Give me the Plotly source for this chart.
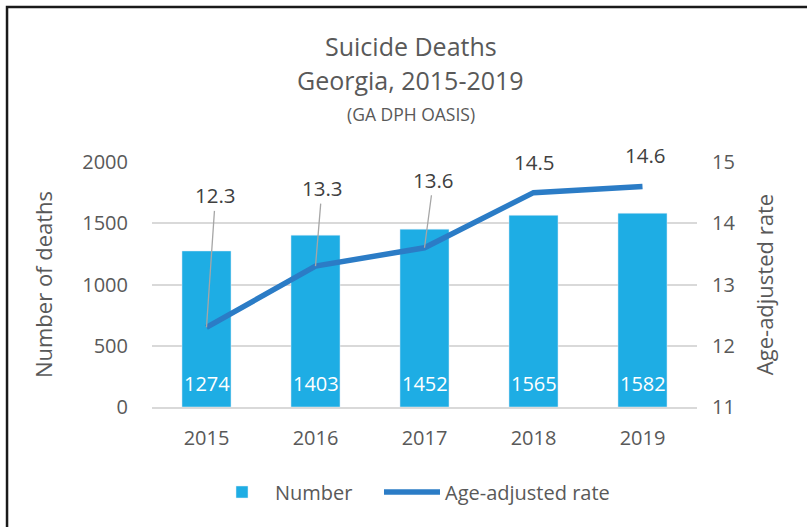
import plotly.graph_objects as go

years = ["2015", "2016", "2017", "2018", "2019"]
deaths = [1274, 1403, 1452, 1565, 1582]
rates = [12.3, 13.3, 13.6, 14.5, 14.6]
left_ticks = [0, 500, 1000, 1500, 2000]
right_ticks = [11, 12, 13, 14, 15]

FONT = "'Open Sans', sans-serif"
GRAY = "#595959"
BAR = "#1EADE4"
LINE = "#2B7CC6"

fig = go.Figure()
fig.add_trace(go.Bar(
    x=years, y=deaths, name="Number", marker_color=BAR, width=0.45, legend="legend",
))
fig.add_trace(go.Scatter(
    x=years, y=rates, name="Age-adjusted rate", yaxis="y2", mode="lines",
    line=dict(color=LINE, width=5.5), legend="legend2",
))

# bar value labels (white, near the bar base)
for i, v in enumerate(deaths):
    fig.add_annotation(x=i, y=0, xref="x", yref="y", text=str(v), showarrow=False,
                       yanchor="middle", yshift=24,
                       font=dict(size=20, color="white", family=FONT))

# data labels for the rate line (offsets in pixels); x given as category index
offsets = [(9, -132, True), (6.5, -78, True), (9, -68, True), (0.5, -31, False), (2.5, -32, False)]
for i, (r, (ax, ay, lead)) in enumerate(zip(rates, offsets)):
    fig.add_annotation(
        x=i, y=r, xref="x", yref="y2", text=f"{r:.1f}", showarrow=True, ax=ax, ay=ay,
        arrowhead=0, arrowwidth=1.3,
        arrowcolor="#A6A6A6" if lead else "rgba(0,0,0,0)",
        font=dict(size=20.5, color="#404040", family=FONT),
    )

# title lines
fig.add_annotation(xref="paper", yref="paper", x=0.475, y=1.4735, yanchor="middle",
                   text="Suicide Deaths", showarrow=False,
                   font=dict(size=25, color=GRAY, family=FONT))
fig.add_annotation(xref="paper", yref="paper", x=0.475, y=1.3347, yanchor="middle",
                   text="Georgia, 2015-2019", showarrow=False,
                   font=dict(size=25, color=GRAY, family=FONT))
fig.add_annotation(xref="paper", yref="paper", x=0.475, y=1.196, yanchor="middle",
                   text="(GA DPH OASIS)", showarrow=False,
                   font=dict(size=17.5, color=GRAY, family=FONT))

# outer border
fig.add_shape(type="rect", xref="paper", yref="paper", x0=-0.266, x1=1.3, y0=-0.6, y1=1.633,
              line=dict(color="#1A1A1A", width=2.5), layer="above")

legend_common = dict(orientation="h", xanchor="left", y=-0.347, yanchor="middle",
                     font=dict(size=20, color=GRAY, family=FONT), itemwidth=56,
                     bgcolor="rgba(0,0,0,0)")

fig.update_layout(
    width=807, height=527,
    margin=dict(l=152, r=110, t=162, b=120),
    paper_bgcolor="white", plot_bgcolor="white",
    font=dict(family=FONT, color=GRAY),
    showlegend=True,
    legend=dict(x=0.1046, **legend_common),
    legend2=dict(x=0.4165, **legend_common),
    xaxis=dict(type="category", range=[-0.5, 4.5], tickfont=dict(size=20, color=GRAY),
               showline=True, linecolor="#D9D9D9", linewidth=1.5, ticklabelstandoff=12,
               fixedrange=True),
    yaxis=dict(range=[0, 2000], tickvals=left_ticks, tickfont=dict(size=20, color=GRAY),
               showgrid=True, gridcolor="#D9D9D9", gridwidth=1.5, zeroline=False,
               ticklabelstandoff=23,
               title=dict(text="Number of deaths", font=dict(size=22, color=GRAY), standoff=23)),
    yaxis2=dict(range=[11, 15], tickvals=right_ticks, overlaying="y", side="right",
                tickfont=dict(size=20, color=GRAY), showgrid=False, zeroline=False,
                ticklabelstandoff=14,
                title=dict(text="Age-adjusted rate", font=dict(size=22, color=GRAY), standoff=23)),
)

fig.write_html("out.html", config={"displayModeBar": False},
               post_script="document.body.style.margin='0px';")
